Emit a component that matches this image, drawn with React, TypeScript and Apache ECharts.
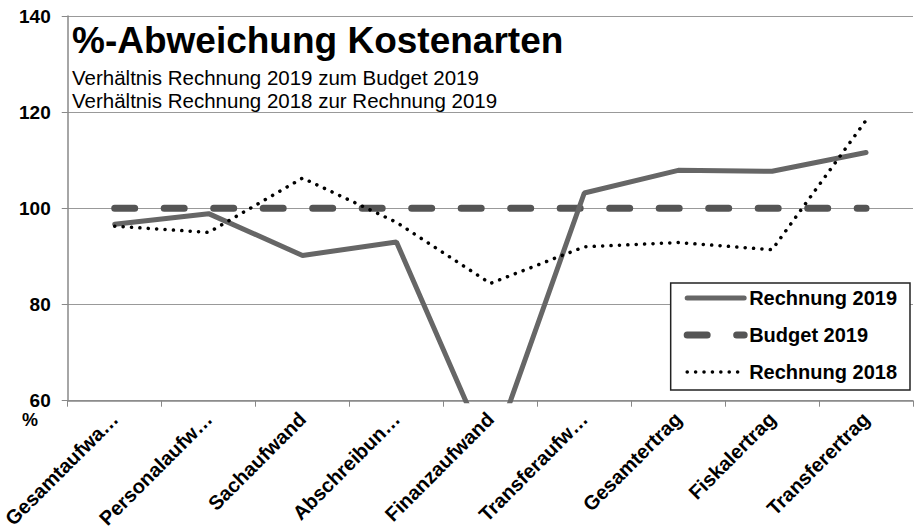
import React, { useEffect, useRef } from "react";
import * as echarts from "echarts";

const categories = [
  "Gesamtaufwa…",
  "Personalaufw…",
  "Sachaufwand",
  "Abschreibun…",
  "Finanzaufwand",
  "Transferaufw…",
  "Gesamtertrag",
  "Fiskalertrag",
  "Transferertrag",
];
const rechnung2019 = [96.7, 98.9, 90.2, 93.0, 48.2, 103.2, 107.9, 107.7, 111.6];
const budget2019 = [100, 100, 100, 100, 100, 100, 100, 100, 100];
const rechnung2018 = [96.3, 95.0, 106.3, 97.1, 84.4, 92.0, 92.9, 91.4, 118.3];
const yTicks = { min: 60, max: 140, interval: 20 };

const FONT = "'Liberation Sans', Arial, sans-serif";

export default function App() {
  const ref = useRef<HTMLDivElement>(null);
  useEffect(() => {
    if (!ref.current) return;
    const chart = echarts.init(ref.current, undefined, { renderer: "svg" });
    chart.setOption({
      animation: false,
      backgroundColor: "#fff",
      textStyle: { fontFamily: FONT },
      grid: { left: 57, top: 16, width: 856, height: 385, containLabel: false },
      xAxis: {
        type: "category",
        data: categories,
        boundaryGap: true,
        axisLine: { lineStyle: { color: "#888", width: 1.5 } },
        axisTick: { show: true, length: 6, lineStyle: { color: "#888" } },
        axisLabel: {
          rotate: 45,
          interval: 0,
          margin: 15,
          fontSize: 20,
          fontWeight: "bold",
          color: "#000",
          fontFamily: FONT,
        },
      },
      yAxis: {
        type: "value",
        min: yTicks.min,
        max: yTicks.max,
        interval: yTicks.interval,
        axisLine: { show: true, lineStyle: { color: "#888", width: 1.5 } },
        axisTick: { show: true, length: 6, lineStyle: { color: "#888" } },
        splitLine: { lineStyle: { color: "#999", width: 1 } },
        axisLabel: {
          fontSize: 19,
          fontWeight: "bold",
          color: "#000",
          margin: 17,
          fontFamily: FONT,
        },
      },
      legend: {
        right: 6,
        top: 283,
        orient: "vertical",
        itemWidth: 57,
        itemHeight: 20,
        itemGap: 17,
        padding: [5, 13, 8, 13],
        backgroundColor: "#fff",
        borderColor: "#222",
        borderWidth: 1.5,
        lineStyle: { width: "inherit", type: "inherit", cap: "round" },
        itemStyle: { opacity: 0 },
        textStyle: { fontSize: 20, fontWeight: "bold", color: "#000", fontFamily: FONT },
        data: ["Rechnung 2019", "Budget 2019", "Rechnung 2018"],
        z: 10,
      },
      series: [
        {
          name: "Rechnung 2019",
          type: "line",
          data: rechnung2019,
          symbol: "none",
          clip: true,
          lineStyle: { color: "#666", width: 5, cap: "round" },
          itemStyle: { color: "#666" },
          z: 3,
        },
        {
          name: "Budget 2019",
          type: "line",
          data: budget2019,
          symbol: "none",
          lineStyle: { color: "#555", width: 7, type: [20, 29.5], cap: "round" },
          itemStyle: { color: "#555" },
          z: 2,
        },
        {
          name: "Rechnung 2018",
          type: "line",
          data: rechnung2018,
          symbol: "none",
          lineStyle: { color: "#000", width: 3.5, type: [0.1, 8.3], cap: "round" },
          itemStyle: { color: "#000" },
          z: 4,
        },
      ],
      graphic: [
        {
          type: "text",
          left: 72,
          top: 22,
          style: { text: "%-Abweichung Kostenarten", fontSize: 37, fontWeight: "bold", fill: "#000", fontFamily: FONT },
        },
        {
          type: "text",
          left: 72,
          top: 67,
          style: { text: "Verhältnis Rechnung 2019 zum Budget 2019", fontSize: 20.5, fill: "#000", fontFamily: FONT },
        },
        {
          type: "text",
          left: 72,
          top: 90,
          style: { text: "Verhältnis Rechnung 2018 zur Rechnung 2019", fontSize: 20.5, fill: "#000", fontFamily: FONT },
        },
        {
          type: "text",
          left: 22,
          top: 411,
          style: { text: "%", fontSize: 18, fontWeight: "bold", fill: "#000", fontFamily: FONT },
        },
      ],
    });
    return () => chart.dispose();
  }, []);
  return (
    <div
      ref={ref}
      style={{ position: "fixed", left: 0, top: 0, width: 916, height: 531 }}
    />
  );
}
